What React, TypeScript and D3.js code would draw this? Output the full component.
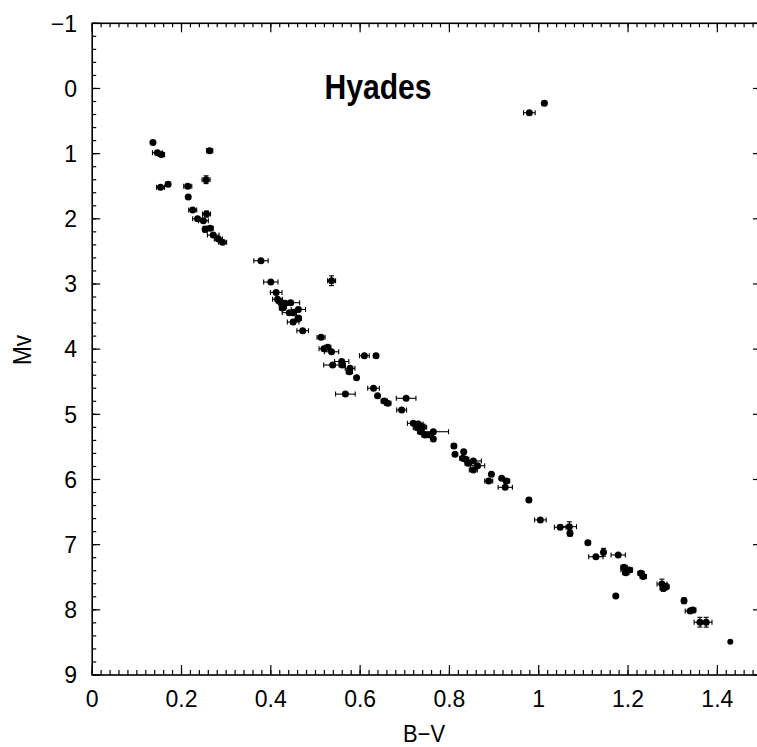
import React from 'react'
import * as d3 from 'd3'

// Hyades colour–magnitude diagram
const bv = [
  0.136, 0.146, 0.155, 0.263, 0.255, 0.153, 0.170, 0.214, 0.215, 0.225,
  0.256, 0.236, 0.249, 0.253, 0.264, 0.271, 0.2825, 0.292, 0.378, 0.400,
  0.536, 0.412, 0.415, 0.419, 0.424, 0.432, 0.4445, 0.428, 0.426, 0.4415,
  0.450, 0.4617, 0.4617, 0.450, 0.4714, 0.5125, 0.519, 0.5274, 0.536, 0.6095,
  0.6356, 0.5385, 0.5587, 0.560, 0.5774, 0.5759, 0.592, 0.630, 0.639, 0.567,
  0.654, 0.662, 0.703, 0.693, 0.719, 0.730, 0.736, 0.740, 0.728, 0.736,
  0.7454, 0.7566, 0.764, 0.764, 0.810, 0.8125, 0.832, 0.830, 0.8365, 0.842,
  0.8535, 0.863, 0.8535, 0.894, 0.888, 0.917, 0.928, 0.925, 0.978, 1.0036,
  1.048, 1.0686, 1.070, 1.110, 1.128, 1.145, 1.178, 1.191, 1.197, 1.203,
  1.195, 1.229, 1.234, 1.1725, 1.276, 1.285, 1.279, 1.3254, 1.339, 1.345,
  1.361, 1.375, 1.429, 1.0126, 0.979,
]

const mv = [
  0.83, 0.985, 1.015, 0.955, 1.40, 1.517, 1.47, 1.50, 1.665, 1.865,
  1.926, 2.0, 2.03, 2.16, 2.146, 2.25, 2.31, 2.36, 2.643, 2.97,
  2.95, 3.13, 3.235, 3.26, 3.287, 3.297, 3.287, 3.35, 3.37, 3.44,
  3.44, 3.39, 3.527, 3.584, 3.717, 3.818, 3.993, 3.972, 4.04, 4.10,
  4.10, 4.243, 4.19, 4.243, 4.294, 4.346, 4.438, 4.60, 4.714, 4.69,
  4.795, 4.83, 4.754, 4.934, 5.138, 5.149, 5.18, 5.20, 5.205, 5.267,
  5.317, 5.317, 5.267, 5.378, 5.486, 5.614, 5.574, 5.675, 5.69, 5.75,
  5.716, 5.788, 5.854, 5.92, 6.023, 5.98, 6.023, 6.12, 6.315, 6.62,
  6.733, 6.724, 6.826, 6.97, 7.185, 7.117, 7.158, 7.347, 7.389, 7.389,
  7.43, 7.44, 7.49, 7.788, 7.604, 7.645, 7.67, 7.86, 8.018, 8.003,
  8.19, 8.19, 8.49, 0.228, 0.372,
]

const bvErr = [
  0, 0.011, 0.007, 0.007, 0.009, 0.009, 0.005, 0.009, 0, 0.009,
  0.009, 0.011, 0.011, 0.005, 0.007, 0.013, 0.009, 0.009, 0.016, 0.016,
  0.009, 0.013, 0.011, 0.007, 0.007, 0.009, 0.02, 0.007, 0.007, 0.016,
  0.007, 0.016, 0.007, 0.013, 0.013, 0.009, 0.011, 0.007, 0.016, 0.011,
  0, 0.02, 0.016, 0.007, 0.011, 0.007, 0, 0.013, 0, 0.022,
  0.007, 0.007, 0.022, 0.011, 0.013, 0.011, 0.009, 0.009, 0.009, 0.007,
  0.007, 0.007, 0.034, 0, 0, 0, 0, 0.007, 0.007, 0.007,
  0.018, 0.016, 0.009, 0, 0.009, 0, 0.007, 0.016, 0, 0.013,
  0.013, 0.016, 0.005, 0, 0.016, 0, 0.016, 0.007, 0.013, 0.007,
  0.007, 0.007, 0.007, 0, 0.011, 0.007, 0.007, 0, 0.011, 0.007,
  0.013, 0.013, 0, 0.005, 0.013,
]

const mvErr = [
  0, 0, 0.03, 0.03, 0.06, 0.03, 0.03, 0.03, 0, 0.015,
  0.045, 0.015, 0.015, 0.045, 0.03, 0.015, 0.015, 0.015, 0.015, 0.015,
  0.075, 0.015, 0.03, 0.03, 0.03, 0.03, 0.03, 0.03, 0.03, 0.03,
  0.03, 0.03, 0.045, 0.03, 0.015, 0.015, 0.03, 0.03, 0.015, 0.015,
  0.03, 0.015, 0.03, 0.015, 0.03, 0.03, 0, 0.015, 0.015, 0.015,
  0.015, 0.015, 0.015, 0.015, 0.015, 0.015, 0.03, 0.03, 0.015, 0.015,
  0.015, 0.015, 0.03, 0.015, 0.03, 0.015, 0.03, 0.015, 0.015, 0.015,
  0.03, 0.015, 0.015, 0.03, 0.015, 0.015, 0.03, 0.015, 0.03, 0.015,
  0.015, 0.075, 0.045, 0.03, 0.015, 0.06, 0.015, 0.015, 0.03, 0.03,
  0.015, 0.03, 0.015, 0.015, 0.075, 0.045, 0.045, 0.045, 0.015, 0.03,
  0.075, 0.075, 0, 0.03, 0.015,
]

const title = 'Hyades'
const xTitle = 'B\u2212V'
const yTitle = 'Mv'

const W = 757
const H = 747

export default function App() {
  const x = d3.scaleLinear().domain([0, 1.5]).range([92.2, 762])
  const y = d3.scaleLinear().domain([-1, 9]).range([23.3, 675])
  const fmt = d3.format('~g')

  const [x0, x1] = x.range()
  const [yTop, yBot] = y.range()

  const xMajor = x.ticks(8)
  const xMinor = x.ticks(75)
  const yMajor = y.ticks(10)
  const yMinor = y.ticks(50)

  const font = '"Liberation Sans", Arial, Helvetica, sans-serif'
  const cap = 2.5

  return (
    <svg width={W} height={H} style={{ position: 'absolute', left: 0, top: 0, background: '#fff' }}>
      <g stroke="#000" strokeWidth={1.2} fill="none">
        {/* minor ticks */}
        {xMinor.map((t, i) => (
          <g key={'xm' + i}>
            <line x1={x(t)} x2={x(t)} y1={yBot} y2={yBot - 5} />
            <line x1={x(t)} x2={x(t)} y1={yTop} y2={yTop + 4} />
          </g>
        ))}
        {yMinor.map((t, i) => (
          <g key={'ym' + i}>
            <line x1={x0} x2={x0 + 4} y1={y(t)} y2={y(t)} />
            <line x1={x1} x2={x1 - 4} y1={y(t)} y2={y(t)} />
          </g>
        ))}
        {xMajor.map((t, i) => (
          <g key={'xM' + i}>
            <line x1={x(t)} x2={x(t)} y1={yBot} y2={yBot - 10} />
            <line x1={x(t)} x2={x(t)} y1={yTop} y2={yTop + 9} />
          </g>
        ))}
        {yMajor.map((t, i) => (
          <g key={'yM' + i}>
            <line x1={x0} x2={x0 + 8} y1={y(t)} y2={y(t)} />
            <line x1={x1} x2={x1 - 9} y1={y(t)} y2={y(t)} />
          </g>
        ))}
        <rect x={x0} y={yTop} width={x1 - x0} height={yBot - yTop} strokeWidth={1.6} />
      </g>

      {/* tick labels */}
      <g fontFamily={font} fontSize={23} fill="#000">
        {xMajor.map((t, i) => (
          <text key={'xl' + i} x={x(t)} y={707} textAnchor="middle">{fmt(t)}</text>
        ))}
        {yMajor.map((t, i) => (
          <text key={'yl' + i} x={77} y={y(t)} dy="0.36em" textAnchor="end">{fmt(t)}</text>
        ))}
      </g>

      {/* axis titles */}
      <text x={424} y={742} fontFamily={font} fontSize={24} textAnchor="middle"
        textLength={42} lengthAdjust="spacingAndGlyphs">{xTitle}</text>
      <text transform="translate(31,350) rotate(-90)" fontFamily={font} fontSize={25}
        textAnchor="middle" textLength={30} lengthAdjust="spacingAndGlyphs">{yTitle}</text>

      <text x={378} y={99.3} fontFamily={font} fontSize={35} fontWeight="bold"
        textAnchor="middle" textLength={107} lengthAdjust="spacingAndGlyphs">{title}</text>

      {/* stars with error bars */}
      <g stroke="#000" strokeWidth={1.1} fill="#000">
        {bv.map((b, i) => {
          const cx = x(b)
          const cy = y(mv[i])
          const xl = x(b - bvErr[i])
          const xr = x(b + bvErr[i])
          const yt = y(mv[i] - mvErr[i])
          const yb = y(mv[i] + mvErr[i])
          return (
            <g key={'p' + i}>
              {bvErr[i] > 0 && (
                <>
                  <line x1={xl} x2={xr} y1={cy} y2={cy} />
                  <line x1={xl} x2={xl} y1={cy - cap} y2={cy + cap} />
                  <line x1={xr} x2={xr} y1={cy - cap} y2={cy + cap} />
                </>
              )}
              {mvErr[i] > 0 && (
                <>
                  <line x1={cx} x2={cx} y1={yt} y2={yb} />
                  <line x1={cx - cap} x2={cx + cap} y1={yt} y2={yt} />
                  <line x1={cx - cap} x2={cx + cap} y1={yb} y2={yb} />
                </>
              )}
              <circle cx={cx} cy={cy} r={i === 102 ? 3 : 3.5} stroke="none" />
            </g>
          )
        })}
      </g>
    </svg>
  )
}
